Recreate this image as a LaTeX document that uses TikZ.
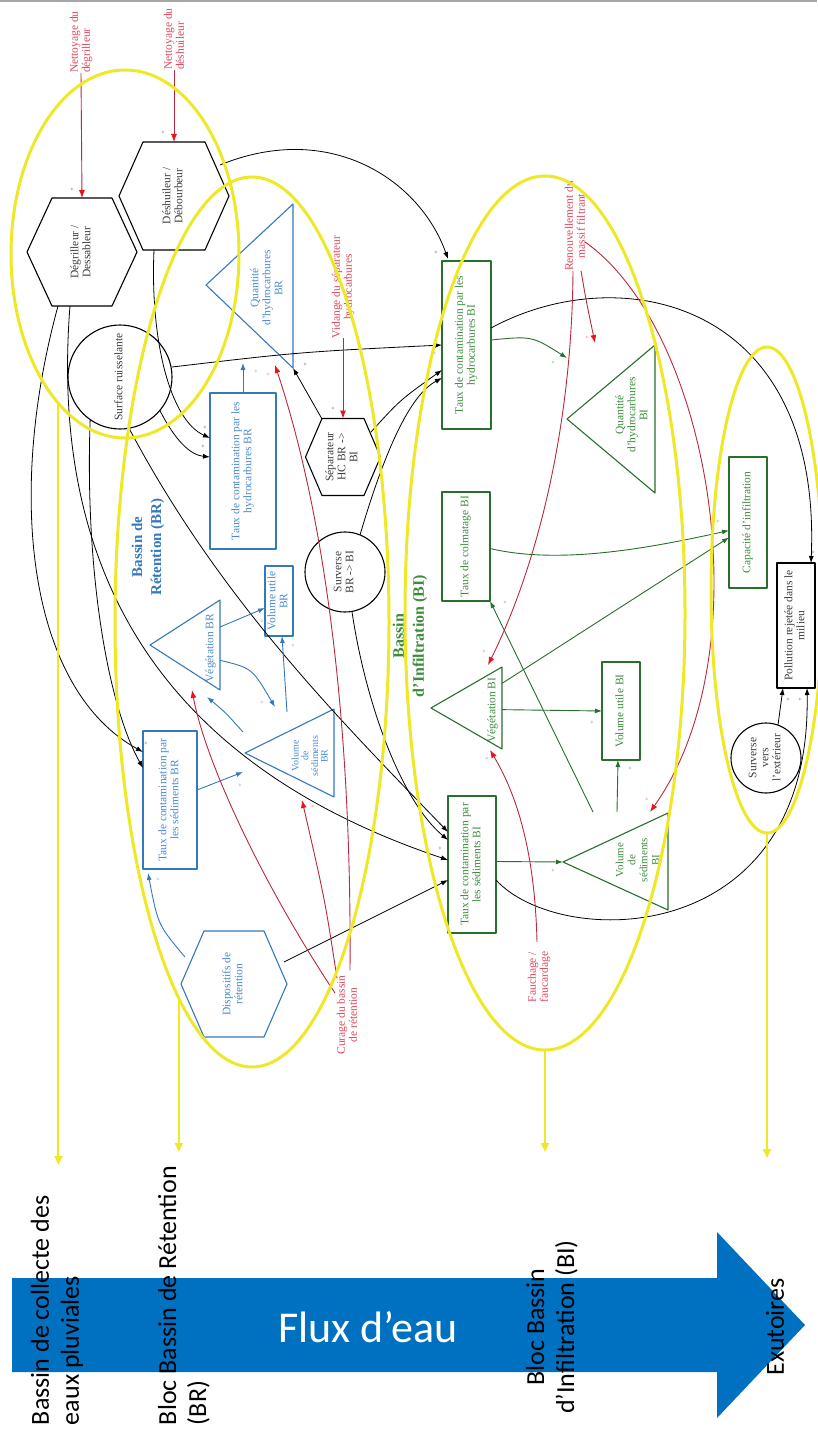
\documentclass[tikz,border=0pt]{standalone}
\usepackage{fontspec}
\usepackage{graphicx}
\setmainfont{Liberation Serif}
\newfontfamily\calfont{Carlito}
\usetikzlibrary{arrows.meta,calc,shapes.geometric}
\definecolor{ylw}{RGB}{238,232,40}
\definecolor{bln}{RGB}{52,120,190}
\definecolor{blt}{RGB}{75,138,205}
\definecolor{grn}{RGB}{40,110,45}
\definecolor{grt}{RGB}{60,140,60}
\definecolor{rdl}{RGB}{185,40,60}
\definecolor{rdt}{RGB}{225,70,90}
\definecolor{rdh}{RGB}{230,20,30}
\definecolor{flux}{RGB}{0,112,192}
\definecolor{txg}{RGB}{60,60,60}
\newcommand{\rt}[1]{\rotatebox{90}{\begin{tabular}{@{}c@{}}#1\end{tabular}}}
\newcommand{\hexshape}[5]{\draw[#1, shift={(#2)}] (-#3,0) -- (-#4,-#5) -- (#4,-#5) -- (#3,0) -- (#4,#5) -- (-#4,#5) -- cycle;}
\begin{document}
\begin{tikzpicture}[x=1pt,y=-1pt,line join=round,
  every node/.style={inner sep=0pt, outer sep=0pt},
  ntxt/.style={font=\fontsize{11.5}{12}\selectfont},
  bbox/.style={draw=bln, line width=1.1pt, text=blt, ntxt, rectangle},
  gbox/.style={draw=grn, line width=1.1pt, text=grt, ntxt, rectangle},
  kbox/.style={draw=black, line width=1.1pt, text=txg, ntxt, rectangle},
  kcirc/.style={draw=black, line width=1.1pt, text=txg, ntxt, circle},
  ktxt/.style={text=txg, ntxt},
  btxt/.style={text=blt, ntxt},
  gtxt/.style={text=grt, ntxt},
  rlab/.style={text=rdt, ntxt, rotate=90},
  kshape/.style={draw=black, line width=1.1pt},
  bshape/.style={draw=bln, line width=1.1pt},
  gshape/.style={draw=grn, line width=1.1pt},
  blk/.style={draw=black, line width=0.8pt, -{Latex[length=7pt,width=5pt]}},
  barr/.style={draw=bln, line width=0.9pt, -{Latex[length=7pt,width=5pt]}},
  garr/.style={draw=grn, line width=0.9pt, -{Latex[length=7pt,width=5pt]}},
  rarr/.style={draw=rdl, line width=0.9pt, -{Latex[length=8pt,width=6pt,color=rdh]}},
  yel/.style={draw=ylw, line width=3pt, ellipse},
  yarr/.style={draw=ylw, line width=2pt, -{Triangle[length=9pt,width=8pt]}},
  pm/.style={font=\fontsize{6}{6}\selectfont},
  lab/.style={text=black, font=\calfont\fontsize{26}{30}\selectfont, rotate=90},
]
\useasboundingbox (0,0) rectangle (817,1431);
\draw[black!35, line width=1.5pt] (0,0.8) -- (817,0.8);

% ---------- hexagons ----------
\node[ktxt] (dg) at (82,252) {\rt{Dégrilleur /\\Dessableur}};
\node[ktxt] (dh) at (174,196) {\rt{Déshuileur /\\Débourbeur}};
\node[ktxt] (sep) at (343,457) {\rt{Séparateur\\HC BR ->\\BI}};
\node[btxt] (disp) at (234,984) {\rt{Dispositifs de\\rétention}};
\hexshape{kshape}{dg}{55}{30}{54}
\hexshape{kshape}{dh}{55}{31}{54}
\hexshape{kshape}{sep}{37.5}{21}{38.5}
\hexshape{bshape}{disp}{53}{30}{53}

% ---------- circles ----------
\node[kcirc, minimum size=104] (sr) at (120,377) {\rt{Surface ruisselante}};
\node[kcirc, minimum size=80] (sbb) at (345,572) {\rt{Surverse\\BR -> BI}};
\node[kcirc, minimum size=70] (sve) at (766,758) {\rt{Surverse\\vers\\l’extérieur}};

% ---------- boxes ----------
\node[bbox, minimum width=66, minimum height=156] (thcbr) at (243,471) {\rt{Taux de contamination par les\\hydrocarbures BR}};
\node[bbox, minimum width=28, minimum height=70] (vubr) at (279,601) {\rt{Volume utile\\BR}};
\node[bbox, minimum width=54, minimum height=138] (tsedbr) at (170,800) {\rt{Taux de contamination par\\les sédiments BR}};
\node[gbox, minimum width=49, minimum height=168] (thcbi) at (466.5,345) {\rt{Taux de contamination par les\\hydrocarbures BI}};
\node[gbox, minimum width=48, minimum height=109] (tcolbi) at (466,546.5) {\rt{Taux de colmatage BI}};
\node[gbox, minimum width=38, minimum height=131] (capinf) at (748,522.5) {\rt{Capacité d’infiltration}};
\node[gbox, minimum width=38, minimum height=98] (vubi) at (621,711) {\rt{Volume utile BI}};
\node[gbox, minimum width=48, minimum height=137] (tsedbi) at (472,864.5) {\rt{Taux de contamination par\\les sédiments BI}};
\node[kbox, minimum width=38, minimum height=125] (pol) at (796,625.5) {\rt{Pollution rejetée dans le\\milieu}};

% ---------- triangles ----------
\coordinate (qbrA) at (206,285); \coordinate (qbrT) at (293,204); \coordinate (qbrB) at (293,368);
\draw[bshape] (qbrA) -- (qbrT) -- (qbrB) -- cycle;
\node[btxt] (qbr) at (268,288) {\rt{Quantité\\d’hydrocarbures\\BR}};
\coordinate (vbrA) at (150,645); \coordinate (vbrT) at (220,600); \coordinate (vbrB) at (220,690);
\draw[bshape] (vbrA) -- (vbrT) -- (vbrB) -- cycle;
\node[btxt] (vbr) at (211,648) {\rt{Végétation BR}};
\coordinate (vsbrA) at (245,753); \coordinate (vsbrT) at (334,709); \coordinate (vsbrB) at (334,797);
\draw[bshape] (vsbrA) -- (vsbrT) -- (vsbrB) -- cycle;
\node[btxt, font=\fontsize{10}{9.5}\selectfont] (vsbr) at (311,756) {\rt{Volume\\de\\sédiments\\BR}};
\coordinate (qbiA) at (567,419); \coordinate (qbiT) at (655,345); \coordinate (qbiB) at (655,493);
\draw[gshape] (qbiA) -- (qbiT) -- (qbiB) -- cycle;
\node[gtxt] (qbi) at (633,415) {\rt{Quantité\\d’hydrocarbures\\BI}};
\coordinate (vbiA) at (431,708); \coordinate (vbiT) at (502,667); \coordinate (vbiB) at (502,749);
\draw[gshape] (vbiA) -- (vbiT) -- (vbiB) -- cycle;
\node[gtxt] (vbi) at (493,710) {\rt{Végétation BI}};
\coordinate (vsbiA) at (563,862); \coordinate (vsbiT) at (668,813); \coordinate (vsbiB) at (668,910);
\draw[gshape] (vsbiA) -- (vsbiT) -- (vsbiB) -- cycle;
\node[gtxt, font=\fontsize{11}{12}\selectfont] (vsbi) at (639,860) {\rt{Volume\\de\\sédiments\\BI}};

% ---------- titles ----------
\node[text=bln, font=\bfseries\fontsize{15}{19}\selectfont, rotate=90, align=center] (brt) at (148,547) {Bassin de\\Rétention (BR)};
\node[text=grt, font=\bfseries\fontsize{16}{20}\selectfont, rotate=90, align=center] (bit) at (410,636) {Bassin\\d’Infiltration (BI)};

% ---------- red labels ----------
\node[rlab, anchor=west, align=left] (nd) at (81,73) {Nettoyage du\\dégrilleur};
\node[rlab, anchor=west, align=left] (ns) at (174,70) {Nettoyage du\\déshuileur};
\node[rlab, align=center] (vid) at (343,287) {Vidange du séparateur\\hydrocarbures};
\node[rlab, align=center] (ren) at (575,226) {Renouvellement du\\massif filtrant};
\node[rlab, align=center] (cur) at (347,1015) {Curage du bassin\\de rétention};
\node[rlab, align=center] (fau) at (539,977) {Fauchage /\\faucardage};

% ---------- black connectors ----------
\draw[blk] ($(dh)+(46,-31)$) .. controls (330,120) and (420,180) .. ($(thcbi.north west)+(6,-2)$);
\draw[blk] ($(sr)+(52,-10)$) .. controls (300,352) .. (thcbi.west);
\draw[blk] ($(sep)+(28,-25)$) .. controls (400,400) .. ($(thcbi.west)+(0,25)$);
\draw[blk] ($(sbb)+(15,-37)$) .. controls (385,450) and (410,395) .. ($(thcbi.west)+(0,33)$);
\draw[blk] ($(sep)+(-21,-38)$) -- (qbrB);
\draw[blk] ($(thcbi.north east)+(0,67)$) .. controls (620,258) and (822,300) .. ($(pol.north east)+(-4,0)$);
\draw[blk] ($(tsedbi.south east)+(0,-53)$) .. controls (560,950) and (812,950) .. ($(pol.south east)+(-8,0)$);
\draw[blk] (sve.70) -- ($(pol.south west)+(6,0)$);
\draw[blk] ($(disp)+(50,-22)$) -- ($(tsedbi.north west)+(0,84)$);
\draw[blk] (sbb.-80) .. controls (365,700) and (400,800) .. ($(tsedbi.north west)+(0,44)$);
\draw[blk] (sr.-80) .. controls (220,600) and (340,720) .. ($(tsedbi.north west)+(0,36)$);
\draw[blk] ($(dg)+(-12,54)$) .. controls (50,560) and (150,760) .. ($(tsedbi.north west)+(0,64)$);
\draw[blk] ($(dg)+(-24,54)$) .. controls (5,500) and (30,690) .. ($(tsedbr.north west)+(0,21)$);
\draw[blk] (sr.-125) .. controls (85,560) and (105,700) .. ($(tsedbr.north west)+(0,37)$);
\draw[blk] ($(dh)+(-20,54)$) .. controls (150,340) and (170,420) .. ($(thcbr.north west)+(0,45)$);
\draw[blk] (sr.-40) .. controls (175,440) and (190,455) .. ($(thcbr.north west)+(0,64)$);

% ---------- blue connectors ----------
\draw[barr] (thcbr.north) -- ($(thcbr.north)+(0,-30)$);
\draw[barr] ($(vbrT)!0.3!(vbrB)$) -- ($(vubr.west)+(0,7)$);
\draw[barr] ($(vsbrT)+(-47,3)$) -- ($(vubr.south)+(3,0)$);
\draw[barr] ($(vbrT)!0.67!(vbrB)$) .. controls (252,668) .. ($(vsbrA)+(30,-46)$);
\draw[barr] ($(vsbrA)+(-2,-21)$) .. controls (225,712) .. ($(vbrB)+(-13,7)$);
\draw[barr] ($(tsedbr.east)+(0,-10)$) -- ($(vsbrA)+(-2,19)$);
\draw[barr] ($(disp)+(-49,-27)$) .. controls (158,925) .. ($(tsedbr.south west)+(5,4)$);

% ---------- green connectors ----------
\draw[garr] ($(thcbi.east)+(0,-5)$) .. controls (532,336) .. ($(qbiA)+(0,-61)$);
\draw[garr] ($(tcolbi.east)+(0,2)$) .. controls (560,565) and (650,548) .. ($(capinf.west)+(0,8)$);
\draw[garr] ($(vbiT)!0.2!(vbiB)$) -- ($(capinf.west)+(0,15)$);
\draw[garr] ($(vbiT)!0.52!(vbiB)$) -- (vubi.west);
\draw[garr] ($(vsbiT)+(-75,-1)$) -- (tcolbi.south east);
\draw[garr] ($(vsbiT)+(-51,-1)$) -- ($(vubi.south)+(-3,0)$);
\draw[garr] ($(tsedbi.east)+(0,-3)$) -- (vsbiA);

% ---------- red connectors ----------
\draw[rarr] (nd.west) -- ($(dg)+(0,-54)$);
\draw[rarr] (ns.west) -- ($(dh)+(0,-54)$);
\draw[rarr] (vid.west) -- ($(sep)+(0,-38.5)$);
\draw[rarr] ($(ren.west)+(6,0)$) .. controls (586,300) .. ($(qbiA)+(28,-76)$);
\draw[rarr] ($(ren.west)+(-2,0)$) .. controls (572,420) and (540,560) .. ($(vbiT)+(-14,-2)$);
\draw[rarr] ($(ren.south)+(0,16)$) .. controls (710,330) and (765,650) .. ($(vsbiT)+(-18,-1)$);
\draw[rarr] ($(cur.north)+(-2,-22)$) .. controls (260,880) and (205,760) .. ($(vbrB)+(-28,0)$);
\draw[rarr] ($(cur.east)+(-10,3)$) .. controls (325,900) .. ($(vsbrB)+(-32,3)$);
\draw[rarr] ($(cur.east)+(3,-5)$) .. controls (352,700) and (320,500) .. ($(qbrB)+(-18,-3)$);
\draw[rarr] ($(fau.east)+(-2,-10)$) .. controls (535,860) and (520,800) .. ($(vbiB)+(-12,1)$);

% ---------- polarity signs ----------
\node[pm, text=txg] (p1) at (72,190) {+};
\node[pm, text=txg] (p2) at (163,133) {+};
\node[pm, text=txg] (p3) at (333,409) {+};
\node[pm, text=txg] (p4) at (205,428) {+};
\node[pm, text=txg] (p5) at (203,447) {+};
\node[pm, text=txg] (p6) at (146,744) {+};
\node[pm, text=txg] (p7) at (436,253) {+};
\node[pm, text=txg] (p8) at (434,354) {+};
\node[pm, text=txg] (p9) at (440,824) {+};
\node[pm, text=txg] (p10) at (440,849) {+};
\node[pm, text=txg] (p11) at (813,553) {+};
\node[pm, text=txg] (p12) at (788,700) {+};
\node[pm, text=txg] (p13) at (800,700) {+};
\node[pm, text=txg] (p14) at (305,365) {+};
\node[pm, text=blt] (p15) at (256,372) {+};
\node[pm, text=blt] (p16) at (158,880) {+};
\node[pm, text=blt] (p17) at (240,786) {+};
\node[pm, text=blt] (p18) at (262,622) {+};
\node[pm, text=blt] (p19) at (293,646) {+};
\node[pm, text=blt] (p20) at (262,703) {+};
\node[pm, text=rdt] (p21) at (268,375) {+};
\node[pm, text=rdt] (p22) at (587,338) {+};
\node[pm, text=rdt] (p23) at (484,652) {+};
\node[pm, text=rdt] (p24) at (647,800) {+};
\node[pm, text=rdt] (p25) at (313,807) {+};
\node[pm, text=rdt] (p26) at (487,759) {+};
\node[pm, text=grt] (p27) at (553,363) {+};
\node[pm, text=grt] (p28) at (718,522) {+};
\node[pm, text=grt] (p29) at (505,603) {+};
\node[pm, text=grt] (p30) at (592,723) {+};
\node[pm, text=grt] (p31) at (630,769) {+};
\node[pm, text=grt] (p32) at (553,871) {+};

% ---------- yellow groupings ----------
\node[yel, minimum width=228, minimum height=368] (e1) at (125,254) {};
\node[yel, minimum width=274, minimum height=890] (e2) at (252,622) {};
\node[yel, minimum width=280, minimum height=874] (e3) at (545,613) {};
\node[yel, minimum width=112, minimum height=486] (e4) at (767,590) {};
\coordinate (y1) at (58,1165);
\coordinate (y2) at (180,1152);
\coordinate (y3) at (547,1152);
\coordinate (y4) at (767,1158);
\draw[yarr] (e1.-114) -- (e1.-114 |- y1);
\draw[yarr] (e2.-101) -- (e2.-101 |- y2);
\draw[yarr] (e3.south) -- (e3.south |- y3);
\draw[yarr] (e4.south) -- (e4.south |- y4);

% ---------- water flux arrow ----------
\fill[flux] (12,1278) -- (717,1278) -- (717,1232) -- (805,1325) -- (717,1418) -- (717,1372) -- (12,1372) -- cycle;
\node[text=white, font=\calfont\fontsize{44}{48}\selectfont] (fluxt) at (368,1327) {Flux d’eau};

\node[lab, anchor=west, align=left] (lab1) at (57,1425) {Bassin de collecte des\\eaux pluviales};
\node[lab, anchor=west, align=left] (lab2) at (184,1425) {Bloc Bassin de Rétention\\(BR)};
\node[lab, align=center] (lab3) at (552,1327) {Bloc Bassin\\d’Infiltration (BI)};
\node[lab, align=center] (lab4) at (775,1327) {Exutoires};
\end{tikzpicture}
\end{document}
